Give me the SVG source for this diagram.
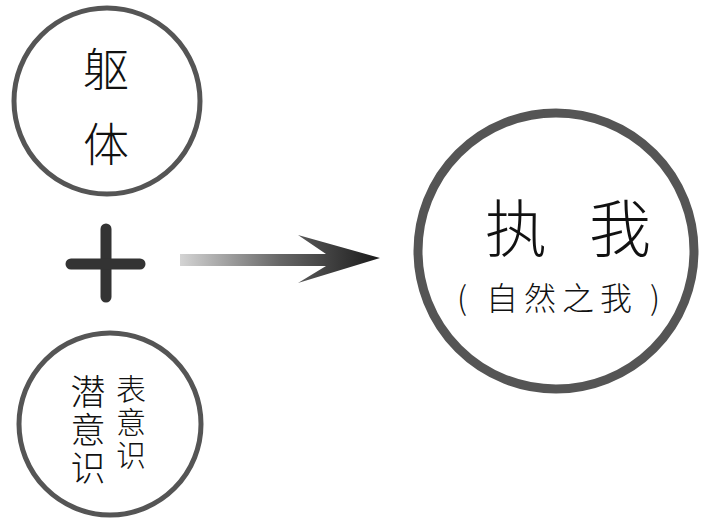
<svg xmlns="http://www.w3.org/2000/svg" width="705" height="519" viewBox="0 0 705 519">
<defs>
<linearGradient id="shaftGrad" x1="180" y1="0" x2="380" y2="0" gradientUnits="userSpaceOnUse">
<stop offset="0" stop-color="#d4d4d4"/>
<stop offset="0.5" stop-color="#666"/>
<stop offset="1" stop-color="#1a1a1a"/>
</linearGradient>
<style>
.ring{fill:none;stroke:#555;}
.t{font-family:"Noto Sans CJK SC","Noto Sans CJK JP",sans-serif;fill:#111;text-anchor:middle;font-weight:300;}
</style>
</defs>
<rect width="705" height="519" fill="#fff"/>
<g id="body">
<circle class="ring" cx="107" cy="101" r="93" stroke-width="5"/>
<text class="t" x="106" y="86" font-size="46">躯</text>
<text class="t" x="106" y="161" font-size="46">体</text>
</g>
<g id="plus">
<line x1="106" y1="229" x2="106" y2="297" stroke="#333" stroke-width="11" stroke-linecap="round"/>
<line x1="71" y1="264" x2="140" y2="264" stroke="#333" stroke-width="11" stroke-linecap="round"/>
</g>
<g id="consciousness">
<circle class="ring" cx="110" cy="424" r="91" stroke-width="5"/>
<text class="t" font-size="35"><tspan x="88" y="405">潜</tspan><tspan x="88" y="443">意</tspan><tspan x="88" y="481">识</tspan></text>
<text class="t" font-size="30"><tspan x="131" y="400">表</tspan><tspan x="131" y="433">意</tspan><tspan x="131" y="466">识</tspan></text>
</g>
<g id="connectors">
<path d="M180,254 L326,254 L298,235 L380,258 L298,283 L326,266 L180,266 Z" fill="url(#shaftGrad)"/>
</g>
<g id="self">
<circle class="ring" cx="556" cy="251" r="138" stroke-width="9"/>
<text class="t" x="516" y="252" font-size="62" font-weight="400">执</text>
<text class="t" x="620" y="252" font-size="62" font-weight="400">我</text>
<text class="t" font-size="32"><tspan x="462" y="310">(</tspan><tspan x="562" y="310" letter-spacing="6">自然之我</tspan><tspan x="655" y="310">)</tspan></text>
</g>
</svg>
